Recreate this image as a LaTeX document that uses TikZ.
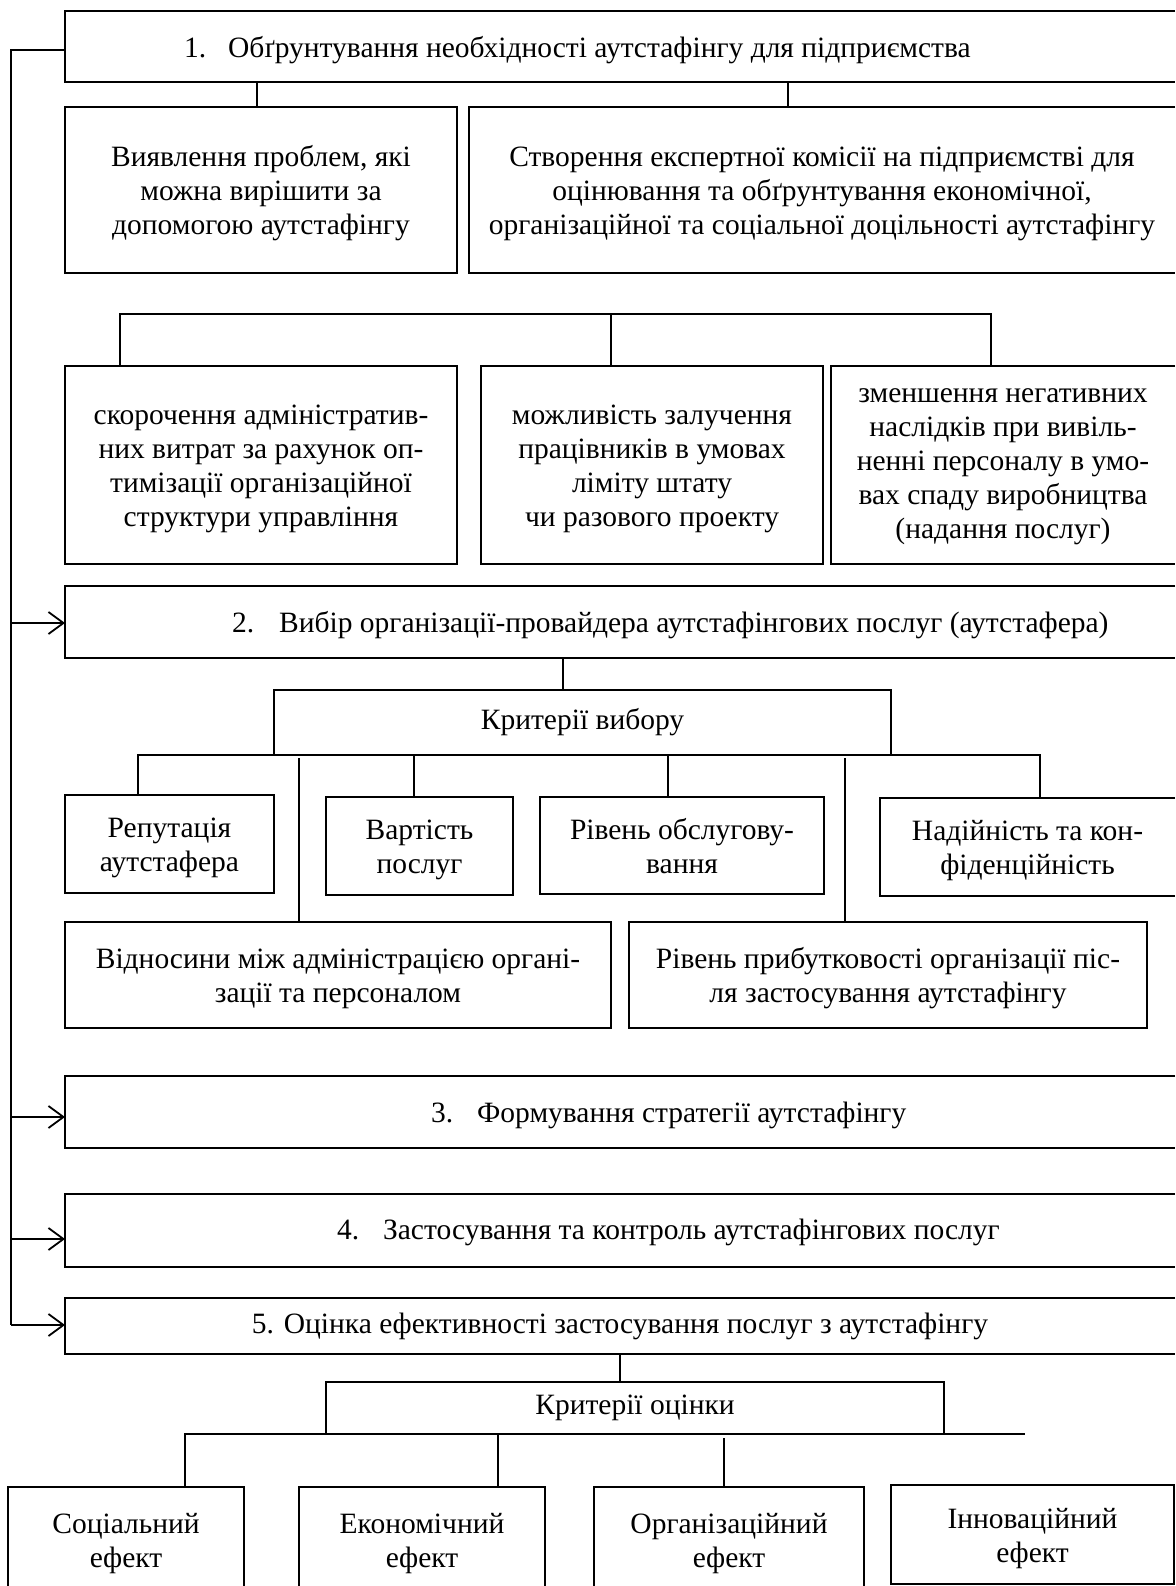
\documentclass[tikz,border=0pt]{standalone}
\usepackage{fontspec}
\setmainfont{Liberation Serif}
\usetikzlibrary{arrows.meta}
\newcommand\figfs{\fontsize{29.5}{34}\selectfont}
\newcommand\tb[1]{\begin{tabular}{@{}c@{}}\rule{0pt}{32pt}#1\end{tabular}}
\newcommand\tbup[1]{\begin{tabular}{@{}c@{}}#1\rule[-12pt]{0pt}{0pt}\end{tabular}}
\tikzset{
  ln/.style={line width=1.8pt},
  box/.style={draw, ln, inner sep=0pt, outer sep=0pt, font=\figfs},
  openbox/.style={draw=none, inner sep=0pt, outer sep=0pt, font=\figfs},
  lbl/.style={inner sep=0pt, outer sep=0pt, font=\figfs, anchor=west},
  arr/.style={ln, -{Straight Barb[length=15pt,width=22pt]}},
}
\begin{document}
\begin{tikzpicture}[x=1pt,y=-1pt]
\useasboundingbox (0,0) rectangle (1175,1586);

% ---- stage 1
\node[openbox, minimum width=1110, minimum height=71] (s1) at (620,46.5) {};
\draw[ln] (s1.north east) -- (s1.north west) -- (s1.south west) -- (s1.south east);
\node[lbl] (t1) at (184,50) {1.\hspace{22pt}Обґрунтування необхідності аутстафінгу для підприємства};

\node[box, minimum width=392, minimum height=166] (A) at (261,190)
  {\tb{Виявлення проблем, які\\можна вирішити за\\допомогою аутстафінгу}};
\node[openbox, minimum width=706, minimum height=166] (B) at (822,190)
  {\tb{Створення експертної комісії на підприємстві для\\оцінювання та обґрунтування економічної,\\організаційної та соціальної доцільності аутстафінгу}};
\draw[ln] (B.north east) -- (B.north west) -- (B.south west) -- (B.south east);

\draw[ln] (257,0 |- s1.south) -- (257,0 |- A.north);
\draw[ln] (788,0 |- s1.south) -- (788,0 |- B.north);

\node[box, minimum width=392, minimum height=198] (C) at (261,465)
  {\tb{скорочення адміністратив-\\них витрат за рахунок оп-\\тимізації організаційної\\структури управління}};
\node[box, minimum width=342, minimum height=198] (D) at (652,465)
  {\tb{можливість залучення\\працівників в умовах\\ліміту штату\\чи разового проекту}};
\node[openbox, minimum width=344, minimum height=198] (E) at (1003,465)
  {\tbup{зменшення негативних\\наслідків при вивіль-\\ненні персоналу в умо-\\вах спаду виробництва\\(надання послуг)}};
\draw[ln] (E.north east) -- (E.north west) -- (E.south west) -- (E.south east);

\coordinate (bc) at (120,314);
\coordinate (bd) at (611,314);
\coordinate (be) at (991,314);
\draw[ln] (bc |- C.north) -- (bc) -- (be) -- (be |- E.north);
\draw[ln] (bd) -- (bd |- D.north);

% ---- stage 2
\node[openbox, minimum width=1110, minimum height=72] (s2) at (620,622) {};
\draw[ln] (s2.north east) -- (s2.north west) -- (s2.south west) -- (s2.south east);
\node[lbl] (t2) at (232,625) {2.\hspace{25pt}Вибір організації-провайдера аутстафінгових послуг (аутстафера)};

\node[box, minimum width=617, minimum height=65] (K1) at (582.5,722.5) {Критерії вибору};
\draw[ln] (563,0 |- s2.south) -- (563,0 |- K1.north);

\node[box, minimum width=209, minimum height=98] (R1) at (169.5,844) {\tb{Репутація\\аутстафера}};
\node[box, minimum width=187, minimum height=98] (R2) at (419.5,846) {\tb{Вартість\\послуг}};
\node[box, minimum width=284, minimum height=97] (R3) at (682,845.5) {\tb{Рівень обслугову-\\вання}};
\node[openbox, minimum width=295, minimum height=98] (R4) at (1027.5,847) {\tb{Надійність та кон-\\фіденційність}};
\draw[ln] (R4.north east) -- (R4.north west) -- (R4.south west) -- (R4.south east);
\node[box, minimum width=546, minimum height=106] (R5) at (338,975) {\tb{Відносини між адміністрацією органі-\\зації та персоналом}};
\node[box, minimum width=518, minimum height=106] (R6) at (888,975) {\tb{Рівень прибутковості організації піс-\\ля застосування аутстафінгу}};

\draw[ln] (138,0 |- R1.north) -- (138,0 |- K1.south) -- (1040,0 |- K1.south) -- (1040,0 |- R4.north);
\draw[ln] (414,0 |- K1.south) -- (414,0 |- R2.north);
\draw[ln] (668,0 |- K1.south) -- (668,0 |- R3.north);
\draw[ln] (299,758) -- (299,0 |- R5.north);
\draw[ln] (845,758) -- (845,0 |- R6.north);

% ---- stages 3, 4, 5
\node[openbox, minimum width=1110, minimum height=72] (s3) at (620,1112) {};
\draw[ln] (s3.north east) -- (s3.north west) -- (s3.south west) -- (s3.south east);
\node[lbl] (t3) at (431,1115) {3.\hspace{24pt}Формування стратегії аутстафінгу};

\node[openbox, minimum width=1110, minimum height=73] (s4) at (620,1230.5) {};
\draw[ln] (s4.north east) -- (s4.north west) -- (s4.south west) -- (s4.south east);
\node[lbl] (t4) at (337,1232) {4.\hspace{24pt}Застосування та контроль аутстафінгових послуг};

\node[openbox, minimum width=1110, minimum height=56] (s5) at (620,1326)
  {5. Оцінка ефективності застосування послуг з аутстафінгу};
\draw[ln] (s5.north east) -- (s5.north west) -- (s5.south west) -- (s5.south east);

% ---- feedback trunk
\coordinate (j2) at (11,623);
\coordinate (j3) at (11,1117);
\coordinate (j4) at (11,1239);
\coordinate (j5) at (11,1325);
\draw[ln] (s1.west |- 0,50) -- (11,50) -- (j5);
\draw[arr] (j2) -- (j2 -| s2.west);
\draw[arr] (j3) -- (j3 -| s3.west);
\draw[arr] (j4) -- (j4 -| s4.west);
\draw[arr] (j5) -- (j5 -| s5.west);

% ---- evaluation criteria
\node[box, minimum width=618, minimum height=52] (K2) at (635,1408) {Критерії оцінки};
\draw[ln] (s5.south) -- (s5.south |- K2.north);

\node[openbox, minimum width=236, minimum height=106] (E1) at (126,1540) {\tb{Соціальний\\ефект}};
\node[openbox, minimum width=246, minimum height=106] (E2) at (422,1540) {\tb{Економічний\\ефект}};
\node[openbox, minimum width=270, minimum height=106] (E3) at (729,1540) {\tb{Організаційний\\ефект}};
\draw[ln] (E1.south west |- 0,1590) -- (E1.north west) -- (E1.north east) -- (E1.south east |- 0,1590);
\draw[ln] (E2.south west |- 0,1590) -- (E2.north west) -- (E2.north east) -- (E2.south east |- 0,1590);
\draw[ln] (E3.south west |- 0,1590) -- (E3.north west) -- (E3.north east) -- (E3.south east |- 0,1590);
\node[box, minimum width=283, minimum height=99] (E4) at (1032.5,1534.5) {\tb{Інноваційний\\ефект}};

\draw[ln] (185,0 |- E1.north) -- (185,0 |- K2.south) -- (1025,0 |- K2.south);
\draw[ln] (498,0 |- K2.south) -- (498,0 |- E2.north);
\draw[ln] (724,1438) -- (724,0 |- E3.north);
\end{tikzpicture}
\end{document}
